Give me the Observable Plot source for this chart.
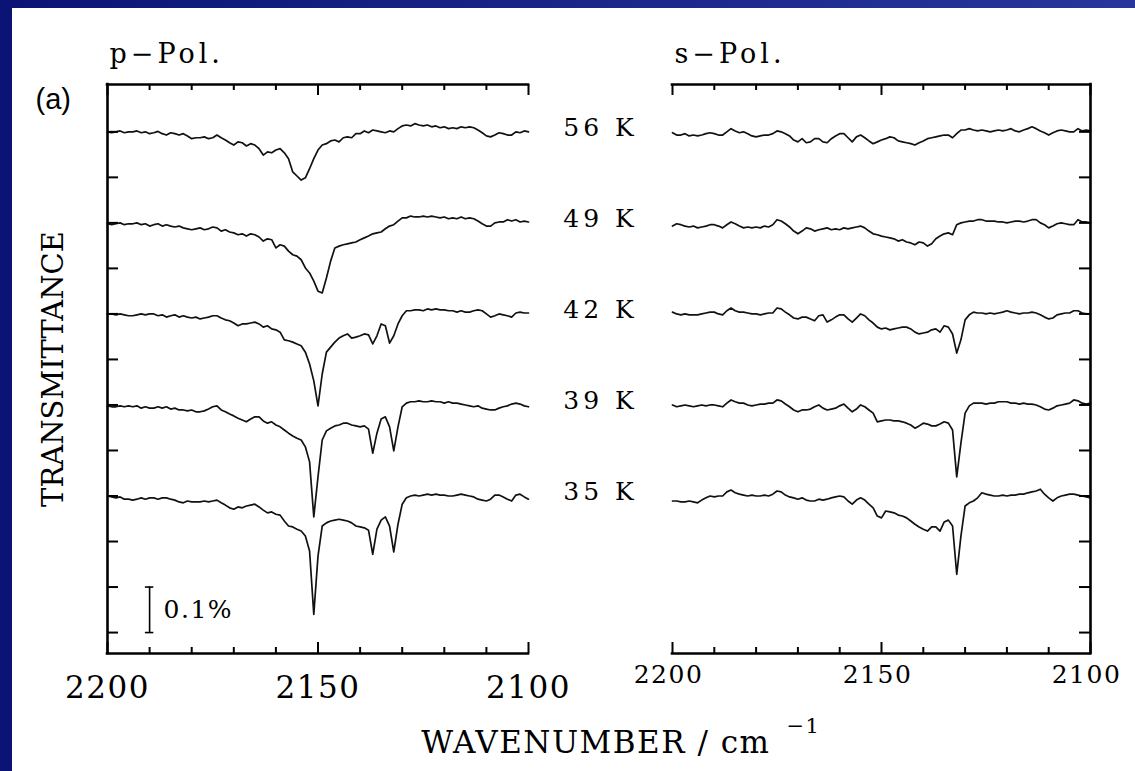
<!DOCTYPE html>
<html>
<head>
<meta charset="utf-8">
<script src="https://cdn.jsdelivr.net/npm/d3@7"></script>
<script src="https://cdn.jsdelivr.net/npm/@observablehq/plot@0.6"></script>
<style>
  html, body { margin: 0; padding: 0; background: #ffffff; }
  #page { position: relative; width: 1135px; height: 771px; background: #ffffff; overflow: hidden; }
  #edgeLeft { position: absolute; left: 0; top: 0; width: 12px; height: 771px; background: #0b1474; }
  #edgeTop { position: absolute; left: 0; top: 0; width: 1135px; height: 8px; background: linear-gradient(to right, #0b1474, #28369b); }
  #leftPanel { position: absolute; left: 0; top: 0; width: 640px; height: 771px; }
  #rightPanel { position: absolute; left: 640px; top: 0; width: 495px; height: 771px; }
  #page svg { overflow: visible; font-family: "DejaVu Serif", serif; }
</style>
</head>
<body>
<div id="page">
  <div id="leftPanel"></div>
  <div id="rightPanel"></div>
  <div id="edgeLeft"></div>
  <div id="edgeTop"></div>
</div>
<script>
// ---------- data ----------
// wavenumber grid (cm^-1), 2200 -> 2100, 1 cm^-1 step
const wavenumbers = d3.range(2200, 2099, -1);
const temperatures = ["56 K", "49 K", "42 K", "39 K", "35 K"];
// vertical stacking offsets of the spectra (in % transmittance)
const offsets = [1.1, 0.9, 0.7, 0.5, 0.3];
// transmittance change relative to each baseline, in units of 0.001 %
const p56 = [0,-2,0,2,-2,0,0,2,-2,0,
  -4,-2,1,-4,-7,-2,-4,-7,-4,-9,
  -15,-13,-13,-11,-15,-13,-7,-13,-18,-24,
  -29,-22,-24,-31,-26,-29,-37,-51,-44,-46,
  -40,-37,-46,-59,-88,-97,-106,-101,-81,-59,
  -40,-29,-26,-20,-18,-22,-13,-11,-13,-4,
  -4,2,-2,4,2,0,-2,2,0,7,
  13,15,13,18,15,13,15,11,13,9,
  11,7,9,7,11,9,11,9,4,-2,
  -9,-11,-7,-2,-4,-7,-7,0,-2,2,
  0];
const p49 = [-2,-4,-2,0,-4,-2,-2,0,-4,-2,
  -7,-4,-2,-7,-4,-7,-9,-7,-11,-13,
  -15,-13,-11,-15,-13,-9,-11,-18,-15,-20,
  -22,-26,-24,-29,-24,-26,-31,-40,-35,-37,
  -55,-48,-51,-62,-70,-73,-81,-99,-110,-128,
  -150,-154,-121,-84,-55,-51,-48,-46,-44,-42,
  -37,-33,-29,-24,-22,-20,-13,-7,-4,4,
  11,11,15,13,13,15,13,15,13,11,
  13,9,11,9,13,9,11,9,4,-2,
  -7,-7,0,2,2,7,4,7,2,4,
  2];
const p42 = [0,0,-2,0,-2,-4,-4,-2,0,-2,
  0,0,-4,-2,-7,-4,-2,-7,-4,-7,
  -9,-7,-11,-9,-7,-4,-4,-9,-13,-15,
  -20,-26,-22,-22,-20,-18,-22,-29,-26,-33,
  -35,-40,-57,-59,-62,-66,-70,-84,-110,-147,
  -202,-132,-84,-73,-62,-53,-48,-44,-53,-51,
  -48,-44,-46,-66,-48,-22,-26,-64,-48,-22,
  -4,7,7,9,9,7,11,9,11,9,
  9,7,7,4,7,4,4,7,9,7,
  0,-7,-4,0,-2,-4,-7,2,4,2,
  2];
const p39 = [-2,-4,-4,-2,-4,-2,-4,-2,-7,-4,
  -7,-7,-4,-7,-4,-9,-7,-11,-11,-13,
  -11,-15,-15,-13,-9,-4,-2,-11,-15,-20,
  -24,-29,-33,-37,-31,-26,-26,-35,-40,-37,
  -44,-48,-55,-62,-68,-73,-77,-92,-125,-246,
  -158,-77,-57,-51,-46,-44,-40,-40,-44,-46,
  -48,-46,-53,-106,-62,-31,-26,-48,-101,-48,
  -4,4,7,7,9,7,7,9,7,7,
  4,7,4,4,2,0,-2,-4,-2,-7,
  -9,-11,-11,-7,-4,-2,2,4,2,-2,
  -4];
const p35 = [0,-2,-4,-2,-7,-7,-9,-7,-4,-7,
  -4,-4,-7,-4,-4,-7,-9,-13,-15,-11,
  -13,-13,-13,-11,-13,-11,-9,-15,-20,-26,
  -29,-24,-26,-22,-20,-18,-24,-31,-37,-35,
  -40,-42,-55,-66,-68,-73,-77,-88,-121,-260,
  -132,-66,-59,-55,-53,-51,-53,-55,-59,-66,
  -68,-70,-75,-128,-73,-53,-46,-66,-123,-62,
  -18,-4,0,2,0,2,4,2,4,2,
  2,0,0,2,4,2,0,-2,-7,-9,
  -11,-7,2,2,-2,-7,-11,2,4,-2,
  -7];
const s56 = [-2,-7,-7,-4,-9,-7,-9,-7,-4,-2,
  -4,-7,-7,0,7,2,-2,0,-4,-9,
  -11,-9,-7,-7,-4,2,0,-4,-9,-18,
  -22,-15,-24,-22,-15,-15,-22,-24,-15,-9,
  -4,-4,-13,-22,-11,-7,-13,-20,-26,-22,
  -18,-15,-11,-13,-20,-22,-24,-26,-29,-24,
  -20,-15,-13,-11,-9,-7,-7,-13,-4,4,
  4,7,4,2,4,2,0,2,4,2,
  4,7,2,0,4,7,11,7,2,-2,
  -7,-2,2,4,2,0,0,7,2,4,
  2];
const s49 = [-7,-2,-4,-7,-9,-7,-11,-9,-7,-4,
  -4,-7,-11,-4,2,-2,-7,-11,-9,-11,
  -9,-11,-7,-9,-4,7,4,-2,-9,-18,
  -24,-18,-11,-13,-18,-15,-13,-11,-15,-13,
  -15,-11,-13,-11,-9,-7,-11,-18,-24,-26,
  -29,-31,-33,-35,-40,-37,-42,-44,-48,-42,
  -44,-51,-46,-35,-29,-24,-22,-26,-4,0,
  2,4,4,7,7,4,4,4,2,2,
  0,2,4,4,2,4,7,7,0,-4,
  -11,-7,-2,0,-2,-4,-4,7,2,2,
  0];
const s42 = [4,0,-2,0,-2,-2,-2,0,2,4,
  4,0,-2,7,13,7,4,4,2,0,
  0,-2,0,2,2,13,11,4,-2,-9,
  -11,-7,-7,-11,-15,-4,-2,-18,-13,-7,
  -2,-2,-11,-18,-9,0,-4,-13,-20,-29,
  -33,-31,-35,-33,-31,-29,-29,-33,-40,-44,
  -42,-40,-35,-33,-40,-26,-29,-44,-86,-57,
  -13,-2,4,2,2,0,2,0,2,4,
  7,4,2,0,2,2,4,2,-2,-7,
  -11,-9,-2,0,2,2,7,7,2,0,
  0];
const s39 = [0,-4,-2,0,-2,-4,-2,0,-2,0,
  0,-2,-4,4,11,7,4,4,0,-2,
  0,2,2,4,4,11,9,2,-4,-11,
  -15,-11,-11,-9,-4,0,-7,-11,-9,-7,
  -2,2,-7,-15,-9,0,-4,-11,-18,-37,
  -35,-33,-33,-35,-35,-37,-40,-44,-51,-46,
  -40,-42,-46,-46,-42,-37,-40,-55,-158,-84,
  -18,-2,4,4,4,2,4,4,7,7,
  7,4,4,2,4,2,2,0,-4,-9,
  -11,-7,-2,0,2,4,11,9,4,2,
  4];
const s35 = [-11,-11,-13,-13,-11,-13,-15,-9,-4,0,
  -2,0,0,9,13,7,4,2,0,2,
  0,0,2,0,4,11,9,2,-2,-4,
  -7,-4,-9,-11,-11,-7,-9,-7,-4,-2,
  0,-2,-11,-18,-9,-4,-9,-18,-26,-44,
  -48,-33,-35,-37,-42,-44,-48,-55,-62,-68,
  -73,-77,-68,-68,-77,-57,-53,-66,-172,-88,
  -22,-15,-11,-4,7,4,2,0,0,2,
  0,2,2,4,4,7,9,11,15,4,
  -4,-11,-4,0,2,4,4,2,0,-2,
  -4];
// axis ticks / labels
const xTicksMajor = [2200, 2150, 2100];
const xTicksMinor = [2190, 2180, 2170, 2160, 2140, 2130, 2120, 2110];
const xTickLabels = [2200, 2150, 2100];
const yTicks = d3.range(12).map(i => i / 10);   // 0.0 ... 1.1 %
const scaleBar = {wn: 2190, from: 0, to: 0.1, label: "0.1%"};
const titles = {p: "p\u2212Pol.", s: "s\u2212Pol."};

// ---------- tidy table ----------
const rows = [];
[["p", [p56, p49, p42, p39, p35]], ["s", [s56, s49, s42, s39, s35]]].forEach(([pol, list]) => {
  list.forEach((vals, k) => {
    if (vals.length !== wavenumbers.length) console.error(pol, temperatures[k], vals.length);
    vals.forEach((v, i) => rows.push({pol, temp: temperatures[k], wn: wavenumbers[i], y: offsets[k] + v / 1000}));
  });
});
const labelRows = temperatures.map((t, k) => ({temp: t, offset: offsets[k]}));

// ---------- layout ----------
const H = 771, MT = 84, MB = 118, innerH = H - MT - MB;
const yDomain = [-0.046, 1.204];
const SERIF = "DejaVu Serif";
const SANS = "Liberation Sans";

function panel({pol, width, marginLeft, marginRight, side, extras}) {
  const innerW = width - marginLeft - marginRight;
  const tickStyle = {stroke: "#000", strokeWidth: 2};
  const yTickInset = side === "left" ? {insetRight: innerW - 11} : {insetLeft: innerW - 11};
  return Plot.plot({
    width, height: H, marginLeft, marginRight, marginTop: MT, marginBottom: MB,
    x: {domain: [2200, 2100], axis: null},
    y: {domain: yDomain, axis: null},
    style: {background: "transparent", overflow: "visible"},
    marks: [
      Plot.line(rows.filter(d => d.pol === pol), {x: "wn", y: "y", z: "temp", stroke: "#111", strokeWidth: 1.7, strokeLinejoin: "round"}),
      Plot.tickX(xTicksMinor, {x: d => d, insetTop: innerH - 6, ...tickStyle}),
      Plot.tickX(xTicksMajor, {x: d => d, insetTop: innerH - 11, ...tickStyle}),
      Plot.tickX(xTicksMinor, {x: d => d, insetBottom: innerH - 6, ...tickStyle}),
      Plot.tickX(xTicksMajor, {x: d => d, insetBottom: innerH - 11, ...tickStyle}),
      Plot.tickY(yTicks, {y: d => d, ...yTickInset, ...tickStyle}),
      Plot.ruleY(yDomain, {y: d => d, stroke: "#000", strokeWidth: 2.6, strokeLinecap: "square"}),
      Plot.ruleX([side === "left" ? 2200 : 2100], {x: d => d, stroke: "#000", strokeWidth: 2.6, strokeLinecap: "square"}),
      Plot.text([titles[pol]], {text: d => d, frameAnchor: "top-left", textAnchor: "start", lineAnchor: "bottom", dx: 2, dy: -22, fontSize: 27, fontFamily: SERIF, fill: "#000"}),
      ...extras
    ]
  });
}

const left = panel({
  pol: "p", width: 640, marginLeft: 107, marginRight: 112, side: "left",
  extras: [
    Plot.text(xTickLabels, {x: d => d, text: d => String(d), frameAnchor: "bottom", textAnchor: "middle", lineAnchor: "middle", dy: 35, fontSize: 31, fontFamily: SERIF, fill: "#000"}),
    Plot.text(labelRows, {y: "offset", text: "temp", frameAnchor: "right", textAnchor: "middle", lineAnchor: "middle", dx: 72, dy: -4, fontSize: 25, fontFamily: SERIF, fill: "#000"}),
    Plot.ruleX([scaleBar], {x: "wn", y1: "from", y2: "to", stroke: "#000", strokeWidth: 1.6}),
    Plot.ruleY([scaleBar.from, scaleBar.to], {y: d => d, x1: scaleBar.wn + 1, x2: scaleBar.wn - 1, stroke: "#000", strokeWidth: 1.6}),
    Plot.text([scaleBar], {x: "wn", y: d => (d.from + d.to) / 2, text: "label", textAnchor: "start", lineAnchor: "middle", dx: 14, fontSize: 25, fontFamily: SERIF, fill: "#000"}),
    Plot.text(["(a)"], {text: d => d, frameAnchor: "top-left", textAnchor: "start", lineAnchor: "bottom", dx: -72, dy: 24, fontSize: 29, fontFamily: SANS, fill: "#000"}),
    Plot.text(["TRANSMITTANCE"], {text: d => d, frameAnchor: "left", textAnchor: "middle", lineAnchor: "middle", rotate: -90, dx: -54, fontSize: 29, fontFamily: SERIF, fill: "#000"}),
    Plot.text(["WAVENUMBER / cm"], {text: d => d, frameAnchor: "bottom-right", textAnchor: "end", lineAnchor: "bottom", dx: 242, dy: 99, fontSize: 31, fontFamily: SERIF, fill: "#000"}),
    Plot.text(["\u22121"], {text: d => d, frameAnchor: "bottom-right", textAnchor: "start", lineAnchor: "bottom", dx: 258, dy: 79, fontSize: 21, fontFamily: SERIF, fill: "#000"})
  ]
});

const right = panel({
  pol: "s", width: 495, marginLeft: 32, marginRight: 45, side: "right",
  extras: [
    Plot.text(xTickLabels, {x: d => d, text: d => String(d), frameAnchor: "bottom", textAnchor: "middle", lineAnchor: "middle", dy: 21, dx: -4, fontSize: 25, fontFamily: SERIF, fill: "#000"})
  ]
});

document.getElementById("leftPanel").appendChild(left);
document.getElementById("rightPanel").appendChild(right);

// letter spacing to mimic the wide plotter lettering
const spacing = (svg) => d3.select(svg).selectAll("text").each(function () {
  const t = this.textContent;
  let ls = 1.5;
  if (/K$/.test(t)) ls = 4;
  else if (/Pol\.$/.test(t)) ls = 4;
  else if (t === "TRANSMITTANCE" || t === "(a)") ls = 0;
  d3.select(this).attr("letter-spacing", ls);
});
spacing(left);
spacing(right);
</script>
</body>
</html>
